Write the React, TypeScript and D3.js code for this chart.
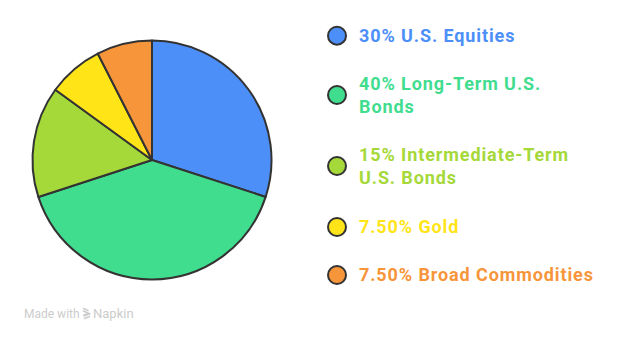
import React from "react";
import * as d3 from "d3";

const legendLines = [["30% U.S. Equities"], ["40% Long-Term U.S.", "Bonds"], ["15% Intermediate-Term", "U.S. Bonds"], ["7.50% Gold"], ["7.50% Broad Commodities"]];
const values = [30, 40, 15, 7.5, 7.5];
const colors = ["#4D8FF8", "#41DD8F", "#A5D839", "#FFE418", "#F7953A"];
const legendY = [35.7, 95, 166, 227, 275];

export default function App() {
  const W = 626, H = 339;
  const cx = 152, cy = 160, r = 119.5;
  const pie = d3.pie<number>().sort(null).value((d) => d)(values);
  const arc = d3.arc<d3.PieArcDatum<number>>().innerRadius(0).outerRadius(r);
  const lineH = 23.5;
  return (
    <svg width={W} height={H} style={{ position: "absolute", left: 0, top: 0, background: "#fff" }}>
      <g transform={`translate(${cx},${cy})`}>
        {pie.map((p, i) => (
          <path key={i} d={arc(p) || ""} fill={colors[i]} stroke="#333" strokeWidth={2} strokeLinejoin="round" />
        ))}
      </g>
      {legendLines.map((lines, i) => {
        const n = lines.length;
        const firstBaseline = legendY[i] + 6.3 - ((n - 1) * lineH) / 2;
        return (
          <g key={i}>
            <circle cx={337} cy={legendY[i]} r={9} fill={colors[i]} stroke="#333" strokeWidth={2} />
            <text fontFamily="Roboto" fontWeight={700} fontSize={18} letterSpacing={0.9} fill={colors[i]}>
              {lines.map((l, j) => (
                <tspan key={j} x={359} y={firstBaseline + j * lineH}>{l}</tspan>
              ))}
            </text>
          </g>
        );
      })}
      <text x={24} y={318} fontFamily="Roboto" fontSize={12} fill="#cccccc">Made with</text>
      <g transform="translate(83,308)" stroke="#cccccc" strokeWidth={1.6} fill="none" strokeLinecap="round">
        <path d="M0.5,0.5 L5,2.5" />
        <path d="M0.5,3 L6,5.5 L1,7" />
        <path d="M1,8 L6.5,5.8" />
        <path d="M1.5,10.5 L6.5,8.5" />
      </g>
      <text x={93} y={318} fontFamily="Roboto" fontSize={13} fill="#cccccc">Napkin</text>
    </svg>
  );
}
